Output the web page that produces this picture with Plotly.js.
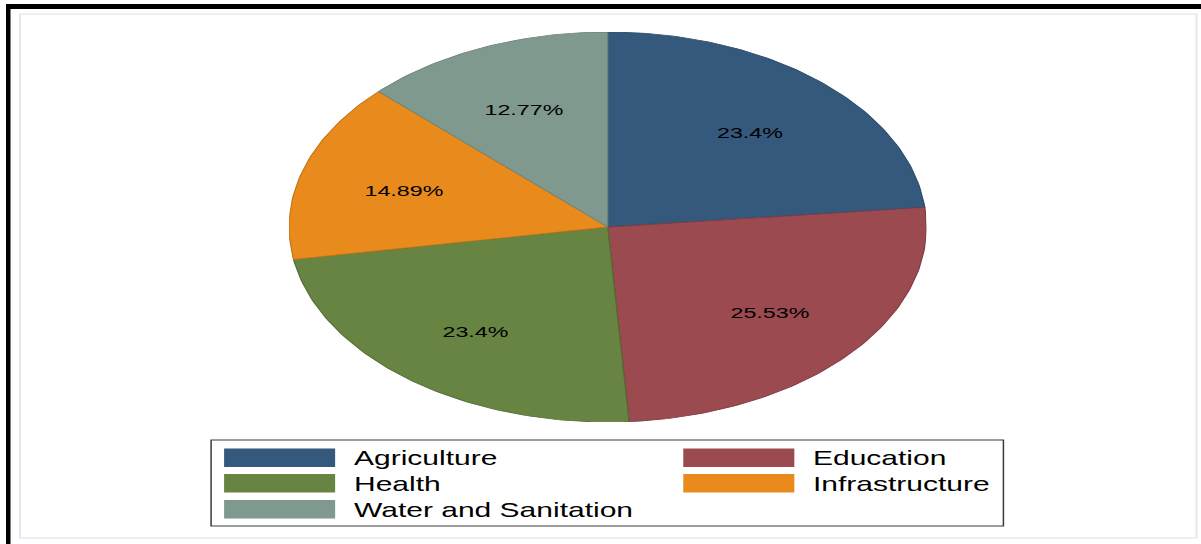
<!DOCTYPE html>
<html>
<head>
<meta charset="utf-8">
<script src="https://cdn.plot.ly/plotly-3.0.1.min.js"></script>
<style>
  html, body { margin: 0; padding: 0; background: #ffffff; overflow: hidden; }
  #wrap { width: 1201px; height: 544px; overflow: hidden; position: relative; }
  #chart { position: absolute; left: 0; top: 0; transform-origin: 0 0; }
</style>
</head>
<body>
<div id="wrap"><div id="chart"></div></div>
<script>
// Project shares by sector (percent of projects)
const categories = ['Agriculture', 'Education', 'Health', 'Infrastructure', 'Water and Sanitation'];
const shares = [23.4, 25.53, 23.4, 14.89, 12.77];
const sliceColors = ['#34597c', '#9b4a50', '#678443', '#e88b1c', '#7f998f'];
const edgeColors = ['#2a4a68', '#7e3a40', '#526b33', '#c27313', '#6a8278'];

// The graph is drawn on a narrower canvas and widened horizontally.
const STRETCH = 1.5;
const FULL_W = 1201, FULL_H = 544;
const W = FULL_W / STRETCH;
const px = v => v / FULL_W;          // page x (px) -> paper x
const py = v => 1 - v / FULL_H;      // page y (px) -> paper y
const FONT = 'Liberation Sans, Arial, Helvetica, sans-serif';

const chartDiv = document.getElementById('chart');
chartDiv.style.width = W + 'px';
chartDiv.style.height = FULL_H + 'px';
chartDiv.style.transform = 'scaleX(' + STRETCH + ')';

// Slices: clockwise from 12 o'clock, on a unit circle mapped to an ellipse by the axes.
const total = shares.reduce((a, b) => a + b, 0);
const traces = [];
const annotations = [];
let start = 0;
shares.forEach((v, i) => {
  const sweep = v / total * 2 * Math.PI;
  const steps = Math.max(8, Math.ceil(sweep / (Math.PI / 180)));
  const xs = [0], ys = [0];
  for (let k = 0; k <= steps; k++) {
    const t = start + sweep * k / steps;
    xs.push(Math.sin(t));
    ys.push(Math.cos(t));
  }
  xs.push(0); ys.push(0);
  traces.push({
    type: 'scatter', mode: 'lines', x: xs, y: ys,
    fill: 'toself', fillcolor: sliceColors[i],
    line: { color: edgeColors[i], width: 0.8 },
    name: categories[i], hoverinfo: 'name', showlegend: false
  });
  const mid = start + sweep / 2;
  annotations.push({
    xref: 'x', yref: 'y', x: (2 / 3) * Math.sin(mid), y: (2 / 3) * Math.cos(mid),
    text: v + '%', showarrow: false, yshift: -2,
    font: { family: FONT, size: 15.5, color: '#000000' },
    xanchor: 'center', yanchor: 'middle'
  });
  start += sweep;
});

// Frame around the graph
const shapes = [
  { type: 'rect', xref: 'paper', yref: 'paper', x0: px(20), x1: px(1196), y0: py(538), y1: py(14),
    line: { color: '#e4ebf0', width: 1.5 }, fillcolor: 'rgba(0,0,0,0)', layer: 'below' },
  { type: 'rect', xref: 'paper', yref: 'paper', x0: px(6), x1: px(1201), y0: py(9), y1: py(4),
    line: { width: 0 }, fillcolor: '#000000' },
  { type: 'rect', xref: 'paper', yref: 'paper', x0: px(6), x1: px(10.5), y0: py(544), y1: py(4),
    line: { width: 0 }, fillcolor: '#000000' },
  // legend box
  { type: 'rect', xref: 'paper', yref: 'paper', x0: px(211), x1: px(1003), y0: py(526), y1: py(440),
    line: { color: '#3a3a3a', width: 1 }, fillcolor: '#ffffff' }
];

// Legend: two columns, row-major order
const keyLeft = [224, 683];
const keyWidth = 111;
const textLeft = [351, 809];
const rowTop = [448.5, 474, 500];
const keyHeight = 18.5;
categories.forEach((c, i) => {
  const col = i % 2, row = Math.floor(i / 2);
  shapes.push({
    type: 'rect', xref: 'paper', yref: 'paper',
    x0: px(keyLeft[col]), x1: px(keyLeft[col] + keyWidth),
    y0: py(rowTop[row] + keyHeight), y1: py(rowTop[row]),
    line: { width: 0 }, fillcolor: sliceColors[i]
  });
  annotations.push({
    xref: 'paper', yref: 'paper', x: px(textLeft[col]), y: py(rowTop[row] + keyHeight / 2),
    text: c, showarrow: false, xanchor: 'left', yanchor: 'middle', yshift: -0.5,
    font: { family: FONT, size: 20, color: '#000000' }
  });
});

const layout = {
  width: W, height: FULL_H, autosize: false,
  margin: { l: 0, r: 0, t: 0, b: 0, pad: 0 },
  paper_bgcolor: '#ffffff', plot_bgcolor: 'rgba(0,0,0,0)',
  showlegend: false,
  xaxis: { domain: [px(289), px(926)], range: [-1, 1], visible: false, fixedrange: true },
  yaxis: { domain: [py(422), py(32)], range: [-1, 1], visible: false, fixedrange: true },
  shapes: shapes,
  annotations: annotations
};

Plotly.newPlot(chartDiv, traces, layout, { staticPlot: true, displayModeBar: false });
</script>
</body>
</html>
